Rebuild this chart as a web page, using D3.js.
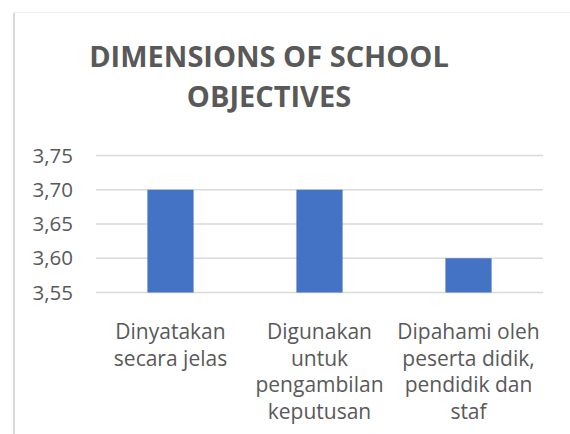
<!DOCTYPE html>
<html>
<head>
<meta charset="utf-8">
<script src="https://cdn.jsdelivr.net/npm/d3@7"></script>
<style>
  body { margin: 0; background: #fff; }
  text { font-family: "Open Sans", sans-serif; fill: #595959; }
</style>
</head>
<body>
<svg id="chart" width="570" height="434"></svg>
<script>
// chart data
const categories = [
  ['Dinyatakan', 'secara jelas'],
  ['Digunakan', 'untuk', 'pengambilan', 'keputusan'],
  ['Dipahami oleh', 'peserta didik,', 'pendidik dan', 'staf']
];
const values = [3.70, 3.70, 3.60];
const yTicks = [3.55, 3.60, 3.65, 3.70, 3.75];
const titleLines = ['DIMENSIONS OF SCHOOL', 'OBJECTIVES'];

const svg = d3.select('#chart');

// chart area border (left and top edges visible)
svg.append('line')
  .attr('x1', 14).attr('x2', 14)
  .attr('y1', 12).attr('y2', 434)
  .attr('stroke', '#d9d9d9')
  .attr('stroke-width', 2);
svg.append('line')
  .attr('x1', 13).attr('x2', 570)
  .attr('y1', 12.5).attr('y2', 12.5)
  .attr('stroke', '#eeeeee')
  .attr('stroke-width', 1);

// title
svg.append('text')
  .attr('x', 269)
  .attr('y', 67)
  .attr('text-anchor', 'middle')
  .style('font-size', '29px')
  .style('font-weight', 'bold')
  .selectAll('tspan')
  .data(titleLines)
  .join('tspan')
  .attr('x', 269)
  .attr('dy', (d, i) => (i === 0 ? 0 : 40))
  .text((d) => d);

// scales
const x = d3.scaleBand()
  .domain(d3.range(categories.length))
  .range([96, 543])
  .paddingInner(0.69)
  .paddingOuter(0.345);

const y = d3.scaleLinear()
  .domain([3.55, 3.75])
  .range([292.5, 155.5]);

// gridlines
svg.append('g')
  .selectAll('line')
  .data(yTicks)
  .join('line')
  .attr('x1', 96)
  .attr('x2', 543)
  .attr('y1', (d) => y(d))
  .attr('y2', (d) => y(d))
  .attr('stroke', '#d9d9d9')
  .attr('stroke-width', 1.3);

// y axis labels
const yAxis = d3.axisLeft(y)
  .tickValues(yTicks)
  .tickSize(0)
  .tickPadding(0)
  .tickFormat((d) => d3.format('.2f')(d).replace('.', ','));

svg.append('g')
  .attr('transform', 'translate(73,0)')
  .call(yAxis)
  .call((g) => g.select('.domain').remove())
  .call((g) => g.selectAll('text')
    .attr('fill', '#595959')
    .style('font-family', '"Open Sans", sans-serif')
    .style('font-size', '20.5px'));

// bars
svg.append('g')
  .selectAll('rect')
  .data(values)
  .join('rect')
  .attr('x', (d, i) => x(i))
  .attr('y', (d) => y(d))
  .attr('width', x.bandwidth())
  .attr('height', (d) => y(3.55) - y(d))
  .attr('fill', '#4472c4');

// category labels
svg.append('g')
  .selectAll('text')
  .data(categories)
  .join('text')
  .attr('text-anchor', 'middle')
  .attr('y', 339)
  .style('font-size', '21px')
  .each(function (lines, i) {
    const cx = x(i) + x.bandwidth() / 2;
    d3.select(this)
      .selectAll('tspan')
      .data(lines)
      .join('tspan')
      .attr('x', cx)
      .attr('dy', (d, j) => (j === 0 ? 0 : 26.6))
      .text((d) => d);
  });
</script>
</body>
</html>
